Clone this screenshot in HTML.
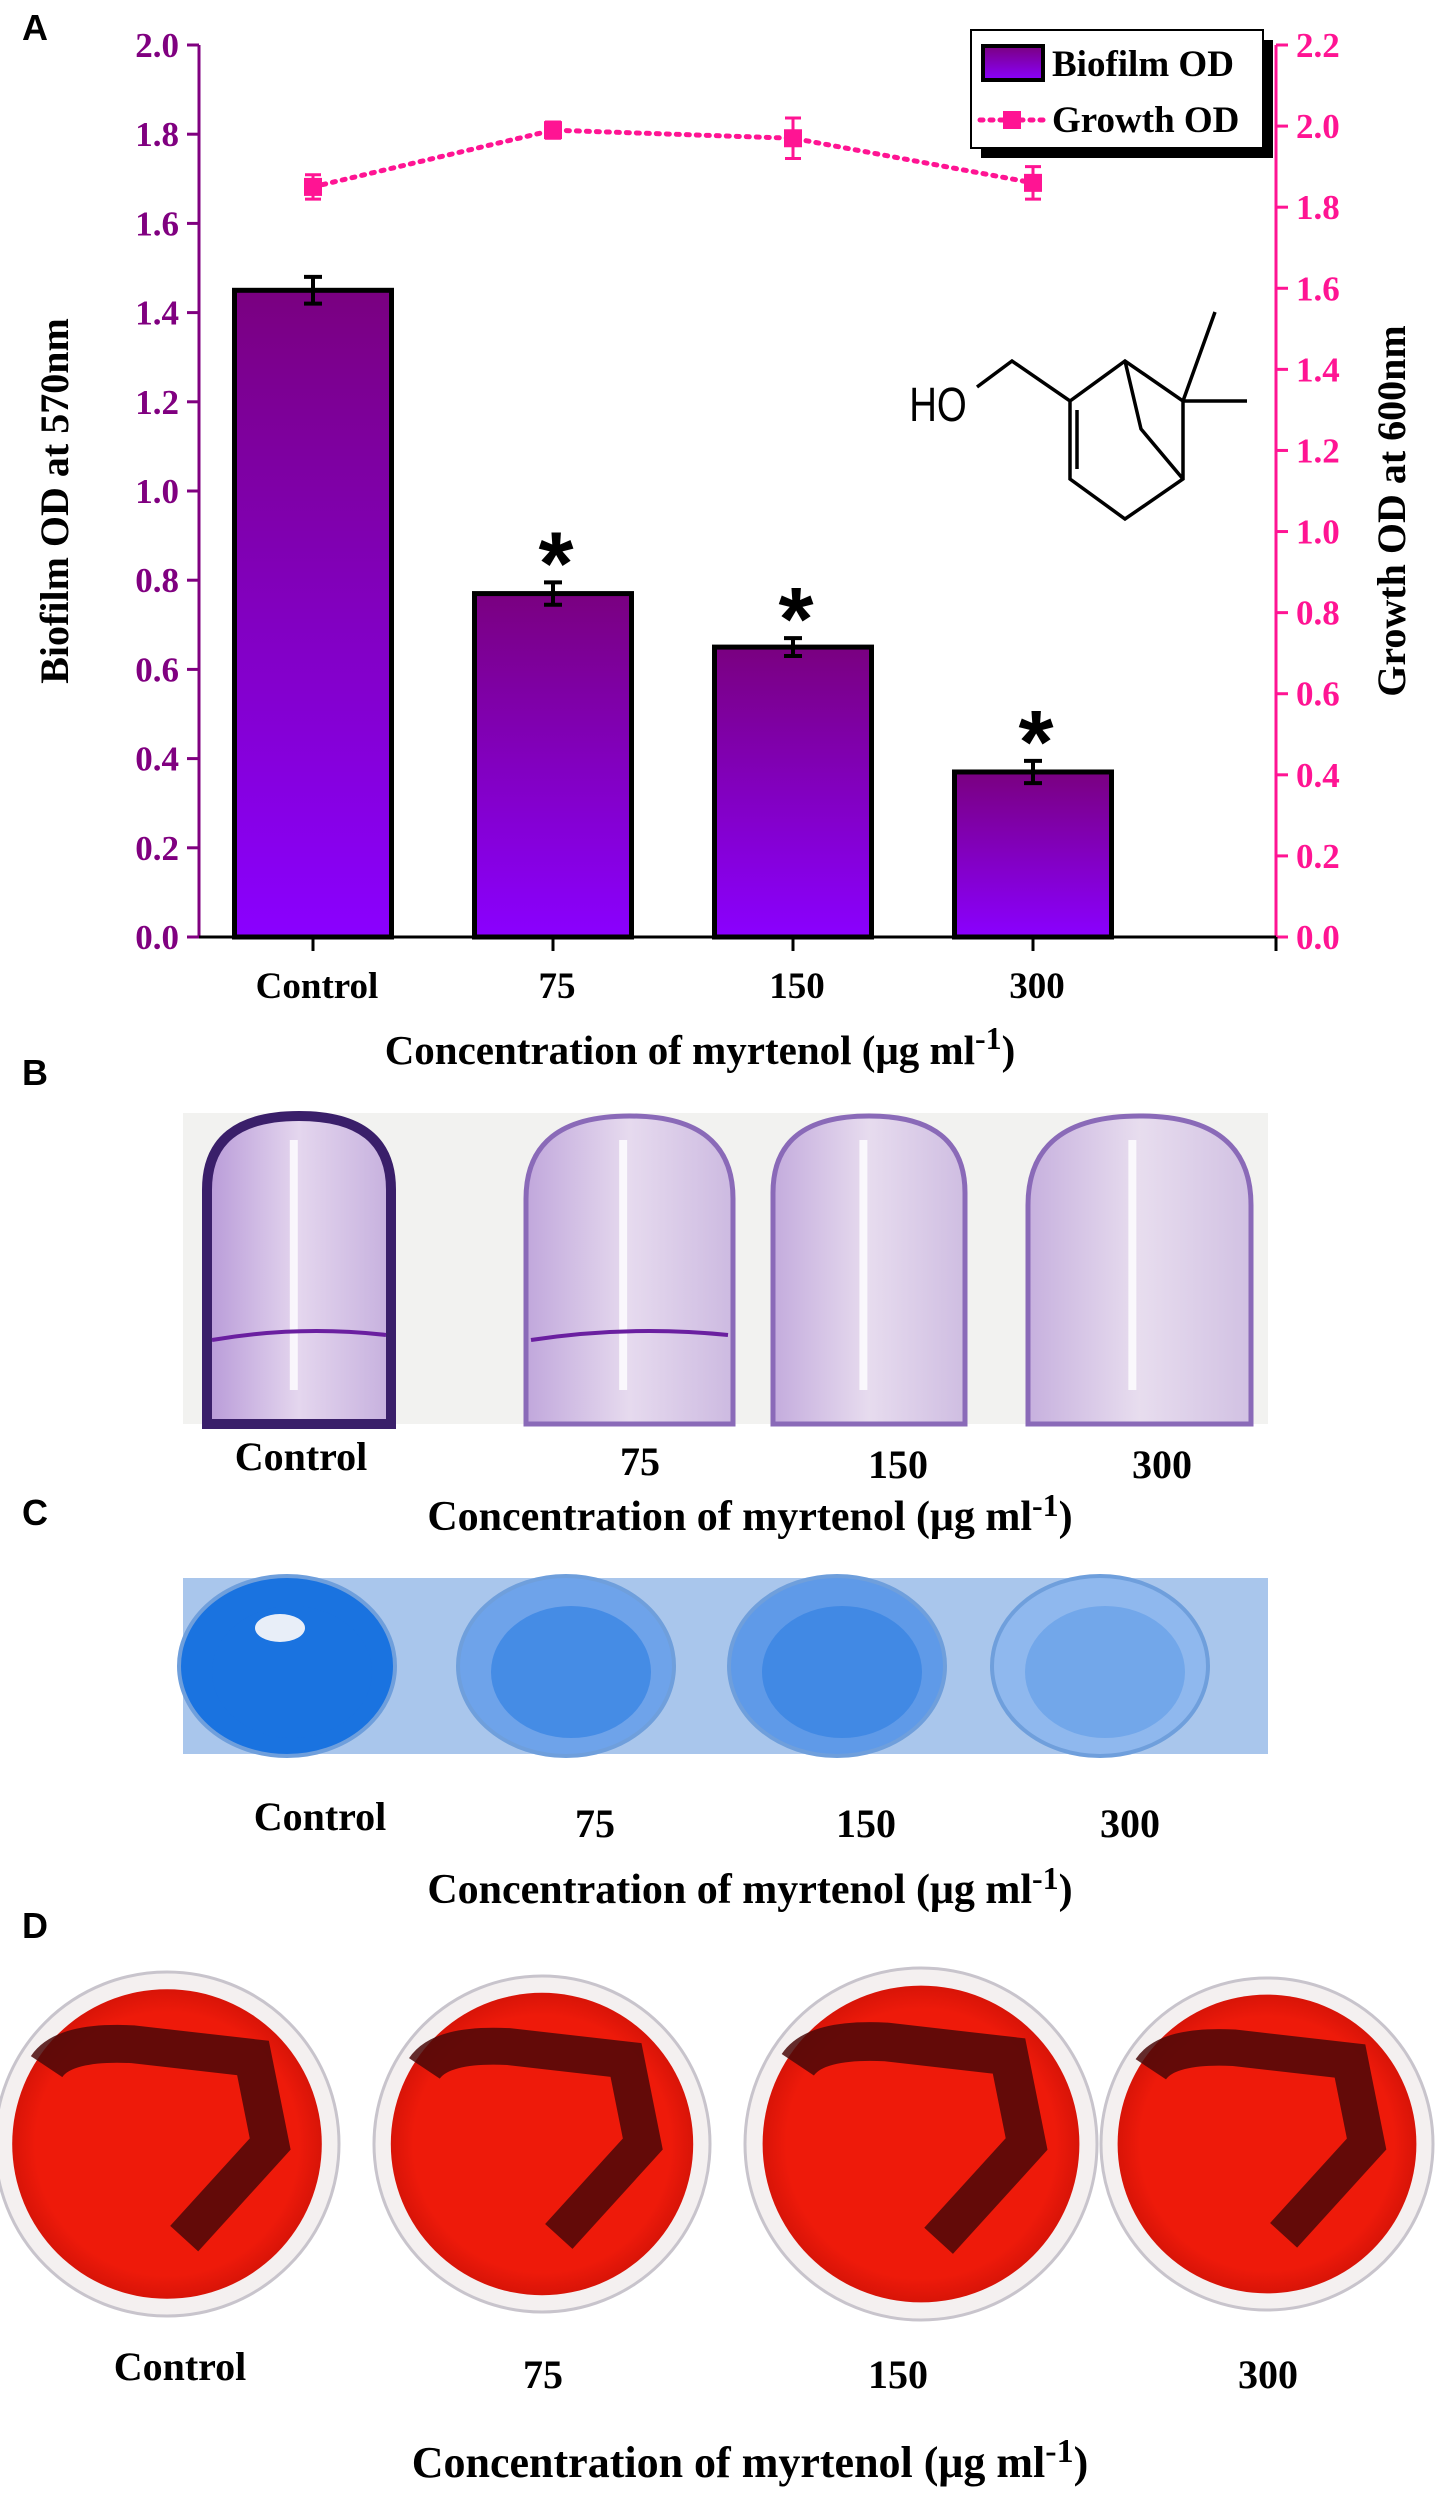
<!DOCTYPE html>
<html><head><meta charset="utf-8">
<style>
body{margin:0;background:#fff;}
svg{display:block;font-family:"Liberation Serif",serif;font-weight:bold;}
.lbl{font-family:"Liberation Sans",sans-serif;font-weight:bold;font-size:36px;}
</style></head>
<body>
<svg id="fig" width="1435" height="2500" viewBox="0 0 1435 2500" xmlns="http://www.w3.org/2000/svg">
<defs>
<linearGradient id="barg" x1="0" y1="0" x2="0" y2="1">
<stop offset="0" stop-color="#7a0080"/><stop offset="1" stop-color="#8a00ff"/></linearGradient>
<linearGradient id="tubeg" x1="0" y1="0" x2="1" y2="0">
<stop offset="0" stop-color="#b89ad8"/><stop offset="0.5" stop-color="#e4d6ee"/><stop offset="1" stop-color="#c6b0de"/></linearGradient>
<radialGradient id="plateg"><stop offset="0.85" stop-color="#ee1a0a"/><stop offset="1" stop-color="#d81408"/></radialGradient>
</defs>
<text class="lbl" x="22" y="40">A</text>
<text class="lbl" x="22" y="1085">B</text>
<text class="lbl" x="22" y="1525">C</text>
<text class="lbl" x="22" y="1938">D</text>
<g id="chart"></g>

<g>
<rect x="183" y="1113" width="1085" height="311" fill="#f2f2f0"/>
<g id="tubes"></g>
</g>
<g font-size="40" text-anchor="middle">
<text x="301" y="1470">Control</text><text x="640" y="1475">75</text><text x="898" y="1478">150</text><text x="1162" y="1478">300</text>
<text x="750" y="1530" font-size="42">Concentration of myrtenol (μg ml<tspan dy="-14" font-size="32">-1</tspan><tspan dy="14">)</tspan></text>
</g>

<g>
<rect x="183" y="1578" width="1085" height="176" fill="#a9c6ec"/>
<g id="wells"></g>
</g>
<g font-size="40" text-anchor="middle">
<text x="320" y="1830">Control</text><text x="595" y="1837">75</text><text x="866" y="1837">150</text><text x="1130" y="1837">300</text>
<text x="750" y="1903" font-size="42">Concentration of myrtenol (μg ml<tspan dy="-14" font-size="32">-1</tspan><tspan dy="14">)</tspan></text>
</g>

<g id="plates"></g>
<g font-size="40" text-anchor="middle">
<text x="180" y="2380">Control</text><text x="543" y="2388">75</text><text x="898" y="2388">150</text><text x="1268" y="2388">300</text>
<text x="750" y="2477" font-size="44">Concentration of myrtenol (μg ml<tspan dy="-15" font-size="34">-1</tspan><tspan dy="15">)</tspan></text>
</g>
</svg>
<script>
const categories = ["Control","75","150","300"];
const biofilmValues = [1.45, 0.77, 0.65, 0.37];
const biofilmErrors = [0.03, 0.025, 0.02, 0.025];
const growthValues = [1.85, 1.99, 1.97, 1.86];
const growthErrors = [0.03, 0.02, 0.05, 0.04];
const leftTicks = ["0.0","0.2","0.4","0.6","0.8","1.0","1.2","1.4","1.6","1.8","2.0"];
const rightTicks = ["0.0","0.2","0.4","0.6","0.8","1.0","1.2","1.4","1.6","1.8","2.0","2.2"];
const significant = [false, true, true, true];

const NS="http://www.w3.org/2000/svg";
function mk(tag, attrs, parent, text){
  const e=document.createElementNS(NS,tag);
  for(const k in attrs) e.setAttribute(k,attrs[k]);
  if(text!==undefined) e.textContent=text;
  parent.appendChild(e); return e;
}
const X0=199, X1=1276, YT=45, YB=937;
const yL=v=>YB-(v/2.0)*(YB-YT);
const yR=v=>YB-(v/2.2)*(YB-YT);
const xC=i=>313+i*240;
const BW=157;
const g=document.getElementById('chart');
const purple="#800080", pink="#ff1493";

let e;
e=mk('line',{x1:X0,y1:YT,x2:X0,y2:YB,stroke:purple,'stroke-width':3},g);


e=mk('line',{x1:X1,y1:YT,x2:X1,y2:YB,stroke:pink,'stroke-width':3},g);


leftTicks.forEach(t=>{
  const y=yL(parseFloat(t));
  mk('line',{x1:X0-12,y1:y,x2:X0,y2:y,stroke:purple,'stroke-width':3},g);
  e=mk('text',{x:X0-20,y:y+12,'text-anchor':'end','font-size':35,fill:purple},g,t);
  
  
});
rightTicks.forEach(t=>{
  const y=yR(parseFloat(t));
  mk('line',{x1:X1,y1:y,x2:X1+12,y2:y,stroke:pink,'stroke-width':3},g);
  e=mk('text',{x:X1+20,y:y+12,'text-anchor':'start','font-size':35,fill:pink},g,t);
  
  
});
categories.forEach((c,i)=>{
  const x=xC(i), v=biofilmValues[i], y=yL(v);
  e=mk('rect',{x:x-BW/2,y:y,width:BW,height:YB-y,fill:'url(#barg)',stroke:'#000','stroke-width':5},g);
  
  
  const yt=yL(v+biofilmErrors[i]), yb=yL(v-biofilmErrors[i]);
  mk('path',{d:`M${x},${yt}V${yb}M${x-9},${yt}H${x+9}M${x-9},${yb}H${x+9}`,stroke:'#000','stroke-width':4,fill:'none'},g);
  if(significant[i]){
    e=mk('text',{x:x+3,y:yt+12,'text-anchor':'middle','font-size':90,fill:'#000','font-family':'Liberation Sans'},g,'*');
    
    
  }
});
e=mk('line',{x1:X0,y1:YB,x2:X1,y2:YB,stroke:'#000','stroke-width':3},g);


categories.forEach((c,i)=>{
  mk('line',{x1:xC(i),y1:YB,x2:xC(i),y2:YB+14,stroke:'#000','stroke-width':3},g);
  e=mk('text',{x:xC(i)+4,y:YB+61,'text-anchor':'middle','font-size':37},g,c);
  
  
});
mk('line',{x1:X1,y1:YB,x2:X1,y2:YB+14,stroke:'#000','stroke-width':3},g);
let d='';
categories.forEach((c,i)=>{d+=(i?'L':'M')+xC(i)+','+yR(growthValues[i]);});
e=mk('path',{d:d,stroke:pink,'stroke-width':5,'stroke-dasharray':'3,7','stroke-linecap':'round',fill:'none'},g);


categories.forEach((c,i)=>{
  const x=xC(i), v=growthValues[i];
  const yt=yR(v+growthErrors[i]), yb=yR(v-growthErrors[i]);
  mk('path',{d:`M${x},${yt}V${yb}M${x-8},${yt}H${x+8}M${x-8},${yb}H${x+8}`,stroke:pink,'stroke-width':3,fill:'none'},g);
  e=mk('rect',{x:x-9,y:yR(v)-9,width:18,height:18,fill:pink},g);
  
  
});
e=mk('text',{x:0,y:0,transform:`translate(68,${(YT+YB)/2+10}) rotate(-90)`,'text-anchor':'middle','font-size':40},g,'Biofilm OD at 570nm');


e=mk('text',{x:0,y:0,transform:`translate(1405,${(YT+YB)/2+20}) rotate(-90)`,'text-anchor':'middle','font-size':40},g,'Growth OD at 600nm');


e=mk('text',{x:700,y:1064,'text-anchor':'middle','font-size':41},g,'');


e.innerHTML='Concentration of myrtenol (μg ml<tspan dy="-15" font-size="32">-1</tspan><tspan dy="15">)</tspan>';
const lg=mk('g',{},g);


mk('rect',{x:981,y:40,width:292,height:118,fill:'#000'},lg);
mk('rect',{x:971,y:30,width:292,height:118,fill:'#fff',stroke:'#000','stroke-width':2},lg);
e=mk('rect',{x:983,y:46,width:60,height:34,fill:'url(#barg)',stroke:'#000','stroke-width':4},lg);


mk('text',{x:1052,y:76,'font-size':37},lg,'Biofilm OD');
mk('line',{x1:980,y1:120,x2:1045,y2:120,stroke:pink,'stroke-width':5,'stroke-dasharray':'3,7','stroke-linecap':'round'},lg);
mk('rect',{x:1003,y:111,width:18,height:18,fill:pink},lg);
mk('text',{x:1052,y:132,'font-size':37},lg,'Growth OD');
const m=mk('g',{stroke:'#000','stroke-width':3.5,fill:'none'},g);


mk('path',{d:'M977,387 L1012,361 L1070,401 L1125,361 L1183,401 L1183,479 L1125,519 L1070,479 L1070,401 M1077,410 L1077,469 M1125,361 L1141,429 L1183,479 M1183,401 L1247,401 M1183,401 L1215,312'},m);
e=mk('text',{x:938,y:421,'font-size':48,stroke:'none',fill:'#000','font-family':'Liberation Sans','font-weight':'normal','text-anchor':'middle',transform:'translate(938,0) scale(0.8,1) translate(-938,0)'},m,'HO');

const tubes=document.getElementById('tubes');
[[207,391,0.9],[526,733,0.55],[773,965,0.5],[1028,1251,0.45]].forEach((t,i)=>{
  const [a,b,o]=t, r=(b-a)/2;
  e=mk('path',{d:`M${a},1424 V${1116+r*0.8} Q${a},1116 ${a+r},1116 Q${b},1116 ${b},${1116+r*0.8} V1424 Z`,fill:'url(#tubeg)','fill-opacity':o+0.3,stroke:i==0?'#3a1f6a':'#8a6ab8','stroke-width':i==0?10:5},tubes);
  
  
  mk('rect',{x:a+r*0.9,y:1140,width:8,height:250,fill:'#fff','fill-opacity':0.8},tubes);
  if(i<2) mk('path',{d:`M${a+5},1340 Q${a+r},${1325} ${b-5},1335`,stroke:'#6a1fa0','stroke-width':4,fill:'none'},tubes);
});
const wells=document.getElementById('wells');
[[287,'#1a73e0','#1a73e0'],[566,'#6ea3ea','#3b86e3'],[837,'#5f9ae8','#3a85e2'],[1100,'#8fb8ee','#6aa2e8']].forEach((w,i)=>{
  e=mk('ellipse',{cx:w[0],cy:1666,rx:108,ry:90,fill:w[1],stroke:'#6f9fdc','stroke-width':4},wells);
  
  
  mk('ellipse',{cx:w[0]+5,cy:1672,rx:80,ry:66,fill:w[2],'fill-opacity':0.8},wells);
});
mk('ellipse',{cx:280,cy:1628,rx:25,ry:14,fill:'#e8eef8'},wells);
const plates=document.getElementById('plates');
[[167,2144,172],[542,2144,168],[921,2144,176],[1267,2144,166]].forEach((p,i)=>{
  const [cx,cy,r]=p;
  mk('circle',{cx:cx,cy:cy,r:r,fill:'#f4f0f0',stroke:'#c8c4cc','stroke-width':3},plates);
  e=mk('circle',{cx:cx,cy:cy,r:r*0.9,fill:'url(#plateg)'},plates);
  
  
  mk('path',{d:`M${cx-r*0.7},${cy-r*0.45} Q${cx-r*0.6},${cy-r*0.6} ${cx-r*0.2},${cy-r*0.58} L${cx+r*0.5},${cy-r*0.5} L${cx+r*0.6},${cy} L${cx+r*0.1},${cy+r*0.55}`,stroke:'#4a0808','stroke-width':r*0.22,fill:'none','stroke-opacity':0.85},plates);
});
</script>
</body></html>
